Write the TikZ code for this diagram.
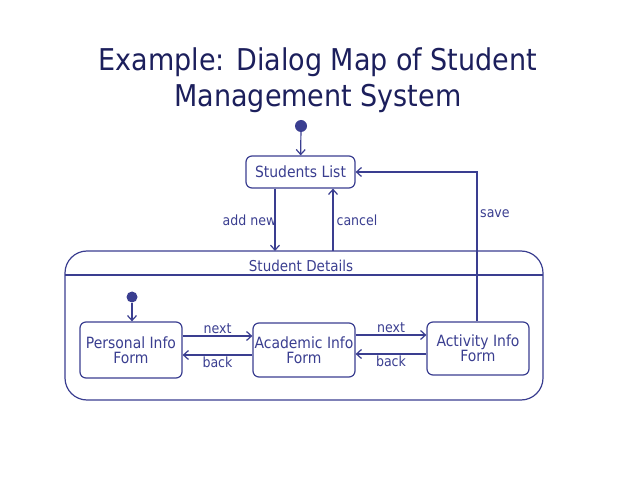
\documentclass[tikz,border=0pt]{standalone}
\usepackage{fontspec}
\setmainfont{DejaVu Sans Condensed}
\usetikzlibrary{arrows.meta}
\definecolor{dg}{HTML}{3A3E90}
\definecolor{tt}{HTML}{1C1F5C}
\tikzset{
  st/.style={draw=dg, line width=1.2pt, rounded corners=6pt, align=center, text=dg, font=\fontsize{15.5}{15}\selectfont, inner sep=0pt},
  tr/.style={draw=dg, line width=1.2pt, -{Straight Barb[length=5pt,width=9pt]}},
  lb/.style={text=dg, font=\fontsize{14}{14}\selectfont, inner sep=1pt},
  dot/.style={circle, fill=dg, inner sep=0pt},
}
\begin{document}
\begin{tikzpicture}[x=1pt,y=-1pt]
\useasboundingbox (0,0) rectangle (621,478);
\node[text=tt, font=\fontsize{30}{36}\selectfont, align=center] (title) at (318,80) {Example: Dialog Map of Student\\Management System};
% top
\node[dot, minimum size=12pt] (init) at (301,126) {};
\node[st, minimum width=109pt, minimum height=32pt] (sl) at (300.5,172) {Students List};
% container
\draw[draw=dg, line width=1.2pt, rounded corners=22pt] (65,251) rectangle (543,400);
\draw[draw=dg, line width=1.2pt] (65,275) -- (543,275);
\node[lb, font=\fontsize{15}{15}\selectfont] (hdr) at (301,266) {Student Details};
% inner
\node[dot, minimum size=11pt] (init2) at (132,297) {};
\node[st, minimum width=102pt, minimum height=56pt] (pf) at (131,350) {Personal Info\\Form};
\node[st, minimum width=102pt, minimum height=54pt] (af) at (304,350) {Academic Info\\Form};
\node[st, minimum width=102pt, minimum height=53pt] (vf) at (478,348.5) {Activity Info\\Form};
\coordinate (an) at (275,251);
\coordinate (cn) at (333,251);
\coordinate (sv) at (477,172);
% transitions
\draw[tr] (init) -- (sl);
\draw[tr] (sl.south -| an) -- (an) node[lb, midway, left, xshift=3pt] {add new};
\draw[tr] (cn) -- (sl.south -| cn) node[lb, midway, right, xshift=2pt] {cancel};
\draw[tr] (vf.north -| sv) -- (sv) -- (sl.east |- sv);
\node[lb, anchor=west] (savelbl) at (479,214) {save};
\draw[tr] (init2) -- (pf.north -| init2);
\draw[tr] ([yshift=14pt]pf.east) -- ([yshift=14pt]pf.east -| af.west) node[lb, midway, above, yshift=1pt] {next};
\draw[tr] ([yshift=-5pt]af.west) -- ([yshift=-5pt]af.west -| pf.east) node[lb, midway, below] {back};
\draw[tr] ([yshift=15pt]af.east) -- ([yshift=15pt]af.east -| vf.west) node[lb, midway, above, yshift=1pt] {next};
\draw[tr] ([yshift=-4pt]af.east -| vf.west) -- ([yshift=-4pt]af.east) node[lb, midway, below] {back};
\end{tikzpicture}
\end{document}
